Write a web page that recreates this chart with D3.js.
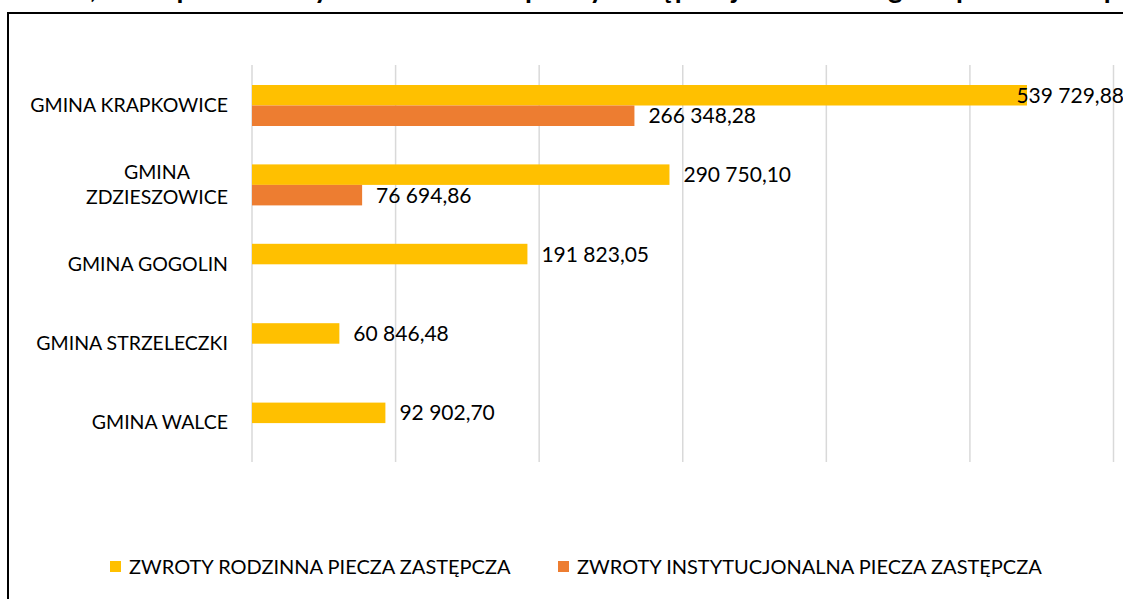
<!DOCTYPE html>
<html><head><meta charset="utf-8">
<script src="https://cdn.jsdelivr.net/npm/d3@7"></script>
<style>body{margin:0;background:#fff;overflow:hidden} svg{display:block}</style>
</head><body><svg id="c" width="1123" height="599"></svg>
<script>
const categories = ["GMINA KRAPKOWICE", "GMINA ZDZIESZOWICE", "GMINA GOGOLIN", "GMINA STRZELECZKI", "GMINA WALCE"];
const categoryLines = [["GMINA KRAPKOWICE"], ["GMINA", "ZDZIESZOWICE"], ["GMINA GOGOLIN"], ["GMINA STRZELECZKI"], ["GMINA WALCE"]];
const seriesNames = ["ZWROTY RODZINNA PIECZA ZASTĘPCZA", "ZWROTY INSTYTUCJONALNA PIECZA ZASTĘPCZA"];
const rodzinna = [539729.88, 290750.10, 191823.05, 60846.48, 92902.70];
const instytucjonalna = [266348.28, 76694.86, null, null, null];
const xTicks = [0, 100000, 200000, 300000, 400000, 500000, 600000];
const colors = ["#FFC000", "#ED7D31"];
const titleText = "Zestawienie kwot, które powiat odzyskał za dzieci w pieczy zastępczej w 2023 r. z gmin powiatu krapkowickiego";

const FONT = "Lato, 'Open Sans', sans-serif";
const svg = d3.select("#c");
const W = 1123, H = 599;

// chart border
svg.append("rect").attr("x", 8).attr("y", 13).attr("width", W + 20).attr("height", H + 20)
  .attr("fill", "#fff").attr("stroke", "#000").attr("stroke-width", 2);

// title (cut off at top as in reference)
const title = svg.append("text").attr("y", -2).attr("font-family", FONT)
  .attr("font-weight", 700).attr("font-size", 28).attr("fill", "#000").text(titleText);
const commaIdx = titleText.indexOf(",");
const pre = title.node().getSubStringLength(0, commaIdx);
title.attr("x", 90 - pre);

const x = d3.scaleLinear().domain([0, 600000]).range([252, 1113.5]);
const y = d3.scaleBand().domain(categories).range([65, 462]);
const yInner = d3.scaleBand().domain(seriesNames).range([20, 61]);

// gridlines
svg.append("g").selectAll("line").data(xTicks).join("line")
  .attr("x1", d => x(d)).attr("x2", d => x(d)).attr("y1", 65).attr("y2", 462)
  .attr("stroke", "#d9d9d9").attr("stroke-width", 1.5);

const locale = d3.formatLocale({decimal: ",", thousands: " ", grouping: [3], currency: ["", ""]});
const fmt = locale.format(",.2f");

const series = [rodzinna, instytucjonalna];
const rows = [];
series.forEach((vals, si) => vals.forEach((v, ci) => {
  if (v != null) rows.push({s: seriesNames[si], si, c: categories[ci], v});
}));

svg.append("g").selectAll("rect").data(rows).join("rect")
  .attr("x", x(0)).attr("y", d => y(d.c) + yInner(d.s))
  .attr("width", d => x(d.v) - x(0)).attr("height", yInner.bandwidth())
  .attr("fill", d => colors[d.si]);

// data labels
const labelLimit = 1124;
svg.append("g").selectAll("text").data(rows).join("text")
  .attr("font-family", FONT).attr("font-size", 21).attr("fill", "#000")
  .attr("y", d => y(d.c) + yInner(d.s) + yInner.bandwidth() / 2)
  .attr("dy", "0.36em")
  .text(d => fmt(d.v))
  .attr("x", function(d) {
    const w = this.getComputedTextLength();
    return Math.min(x(d.v) + 14, labelLimit - w);
  });

// category labels
const cat = svg.append("g");
categories.forEach((c, i) => {
  const lines = categoryLines[i];
  const cy = y(c) + y.bandwidth() / 2;
  const lh = 25;
  const g = cat.append("g");
  const texts = lines.map((t, li) => g.append("text").attr("font-family", FONT).attr("font-size", 19.5)
    .attr("fill", "#000").attr("text-anchor", "middle")
    .attr("y", cy + (li - (lines.length - 1) / 2) * lh).attr("dy", "0.36em").text(t));
  const maxW = d3.max(texts, t => t.node().getComputedTextLength());
  texts.forEach(t => t.attr("x", 228 - maxW / 2));
});

// legend
const legendX = [110, 558];
const lg = svg.append("g");
seriesNames.forEach((s, i) => {
  lg.append("rect").attr("x", legendX[i]).attr("y", 561).attr("width", 11).attr("height", 11).attr("fill", colors[i]);
  lg.append("text").attr("x", legendX[i] + 19).attr("y", 567).attr("dy", "0.36em")
    .attr("font-family", FONT).attr("font-size", 20).attr("fill", "#000").text(s);
});
</script></body></html>
